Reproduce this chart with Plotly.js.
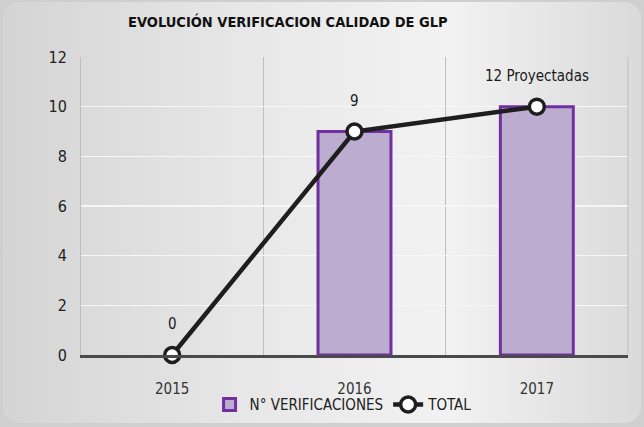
<!DOCTYPE html>
<html><head><meta charset="utf-8">
<script src="https://cdn.plot.ly/plotly-3.0.1.min.js"></script>
<style>
html,body{margin:0;padding:0;background:#cfcfcf;}
#wrap{position:absolute;left:3px;top:2px;width:638px;height:421px;border-radius:16px;
background:linear-gradient(to right,#d4d4d4 0%,#e8e8e8 40%,#f2f2f2 70%,#dadada 100%);overflow:hidden;}
#chart{position:absolute;left:0;top:0;width:644px;height:427px;}
</style></head><body>
<div id="wrap"></div>
<div id="chart"></div>
<script>
var categories = ['2015','2016','2017'];
var barValues = [0, 9, 10];
var lineValues = [0, 9, 10];
var lineLabels = ['0', '9', '12 Proyectadas'];
var yTicks = [0, 2, 4, 6, 8, 10, 12];

var font = 'DejaVu Sans Condensed, Liberation Sans Narrow, sans-serif';

// list non-zero bars first so the legend swatch takes a visible border;
// the category axis keeps the display order.
var barOrder = categories.map(function(c, i){ return i; })
  .sort(function(a, b){ return (barValues[a] === 0) - (barValues[b] === 0) || a - b; });

var traces = [
  {type:'bar', name:'N° VERIFICACIONES',
   x:barOrder.map(function(i){ return categories[i]; }),
   y:barOrder.map(function(i){ return barValues[i]; }), width:0.4,
   marker:{color:'#bcaccf', line:{width:3,
     color:barOrder.map(function(i){ return barValues[i] === 0 ? 'rgba(0,0,0,0)' : '#7030a0'; })}},
   hoverinfo:'y'},
  {type:'scatter', mode:'lines+markers', name:'TOTAL', x:categories, y:lineValues,
   line:{color:'#1e1e1e', width:4.5}, cliponaxis:false,
   marker:{size:15, color:'#ffffff', line:{color:'#1e1e1e', width:3.5}}}
];

var annotations = categories.map(function(c, i){
  return {x:i, y:lineValues[i], text:lineLabels[i], showarrow:false, yshift:31,
          font:{family:font, size:15, color:'#1a1a1a'}};
});

var layout = {
  width:644, height:427,
  paper_bgcolor:'rgba(0,0,0,0)', plot_bgcolor:'rgba(0,0,0,0)',
  margin:{l:81, r:16, t:57, b:72},
  font:{family:font, color:'#333', size:15},
  title:{text:'<b>EVOLUCIÓN VERIFICACION CALIDAD DE GLP</b>', x:0.447, xanchor:'center', y:0.948, yanchor:'middle',
         font:{family:font, size:14.5, color:'#111'}},
  xaxis:{type:'category', categoryorder:'array', categoryarray:categories, range:[-0.5, 2.5], tickson:'boundaries', showgrid:true, gridcolor:'#bfbfbf', gridwidth:1,
         ticks:'', showline:true, linecolor:'#4a4a4a', linewidth:2.5, zeroline:false, mirror:false,
         ticklabelstandoff:18, tickfont:{size:15, color:'#333'}},
  yaxis:{range:[0,12], tickvals:yTicks, showgrid:true, gridcolor:'#f6f6f6', gridwidth:1.5,
         zeroline:false, showline:true, linecolor:'#bdbdbd', linewidth:1, ticks:'',
         ticklabelstandoff:10, tickfont:{size:16, color:'#222'}},
  annotations: annotations,
  shapes:[{type:'line', xref:'paper', yref:'paper', x0:1, x1:1, y0:0, y1:1, line:{color:'#bfbfbf', width:1}}],
  showlegend:true,
  legend:{orientation:'h', x:0.48, xanchor:'center', yref:'container', y:0.052, yanchor:'middle',
          font:{size:15, color:'#222', family:font}, bgcolor:'rgba(0,0,0,0)', itemwidth:30},
  bargap:0.6
};

Plotly.newPlot('chart', traces, layout, {displayModeBar:false, staticPlot:true});
</script></body></html>
